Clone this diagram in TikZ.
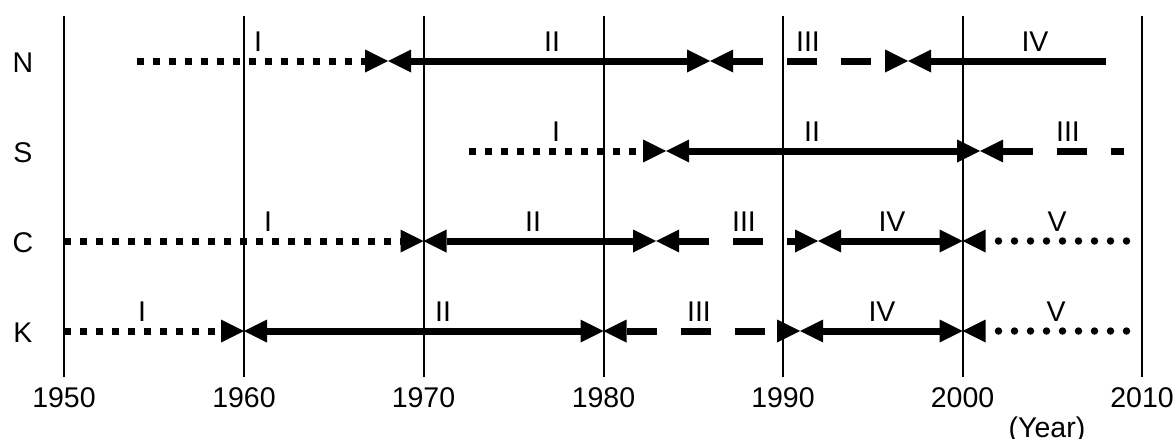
\documentclass[tikz,border=0pt]{standalone}
\usepackage{fontspec}
\setmainfont{Liberation Sans}
\usetikzlibrary{arrows.meta}
\begin{document}
\begin{tikzpicture}[x=1pt,y=-1pt,
  >={Triangle[length=23pt,width=23pt,line width=0pt]},
  gridline/.style={line width=2pt},
  lbl/.style={font=\fontsize{28.5}{30}\selectfont, inner sep=0pt, anchor=base},
  solidph/.style={line width=7pt},
  sqdot/.style={line width=7pt, dash pattern=on 7pt off 9pt},
  dashph/.style={line width=7pt, dash pattern=on 30pt off 24pt},
  rdot/.style={line width=7.5pt, line cap=round, dash pattern=on 0pt off 16pt, dash phase=3pt},
]
\useasboundingbox (0,0) rectangle (1176,439);

% vertical grid lines and year labels
\foreach \yr/\xx in {1950/64,1960/244,1970/423.5,1980/603.5,1990/783,2000/962.5,2010/1142}{
  \coordinate (t\yr) at (\xx,16);
  \coordinate (b\yr) at (\xx,377);
  \draw[gridline] (t\yr) -- (b\yr);
  \node[lbl] (lab\yr) at (\xx,407) {\yr};
}
\node[lbl] (year) at (1047,437) {(Year)};

% row labels
\node[lbl] (rN) at (23,72) {N};
\node[lbl] (rS) at (23,162) {S};
\node[lbl] (rC) at (23,252) {C};
\node[lbl] (rK) at (23,342) {K};

% row N
\coordinate (N0) at (137,61);
\coordinate (N1) at (388,61);
\coordinate (N2) at (710,61);
\coordinate (N3) at (908,61);
\coordinate (N4) at (1106,61);
\draw[sqdot,->] (N0) -- (N1);
\draw[solidph,<->] (N1) -- (N2);
\draw[dashph,<->] (N2) -- (N3);
\draw[solidph,<-] (N3) -- (N4);
\node[lbl] (NI) at (258,51) {I};
\node[lbl] (NII) at (552,51) {II};
\node[lbl] (NIII) at (808,51) {III};
\node[lbl] (NIV) at (1035,51) {IV};

% row S
\coordinate (S0) at (469,151);
\coordinate (S1) at (666,151);
\coordinate (S2) at (980,151);
\coordinate (S3) at (1124,151);
\draw[sqdot,->] (S0) -- (S1);
\draw[solidph,<->] (S1) -- (S2);
\draw[dashph,<-] (S2) -- (S3);
\node[lbl] (SI) at (556,141) {I};
\node[lbl] (SII) at (812,141) {II};
\node[lbl] (SIII) at (1068,141) {III};

% row C
\coordinate (C0) at (64,241);
\coordinate (C1) at (423.5,241);
\coordinate (C2) at (656,241);
\coordinate (C3) at (818,241);
\coordinate (C4) at (962.5,241);
\coordinate (C5) at (1127,241);
\draw[sqdot,->] (C0) -- (C1);
\draw[solidph,<->] (C1) -- (C2);
\draw[dashph,<->] (C2) -- (C3);
\draw[solidph,<->] (C3) -- (C4);
\draw[rdot,<-] (C4) -- (C5);
\node[lbl] (CI) at (268,231) {I};
\node[lbl] (CII) at (533,231) {II};
\node[lbl] (CIII) at (744,231) {III};
\node[lbl] (CIV) at (892,231) {IV};
\node[lbl] (CV) at (1057,231) {V};

% row K
\coordinate (K0) at (64,331);
\coordinate (K1) at (244,331);
\coordinate (K2) at (603.5,331);
\coordinate (K3) at (800,331);
\coordinate (K4) at (962.5,331);
\coordinate (K5) at (1127,331);
\draw[sqdot,->] (K0) -- (K1);
\draw[solidph,<->] (K1) -- (K2);
\draw[dashph,<->] (K2) -- (K3);
\draw[solidph,<->] (K3) -- (K4);
\draw[rdot,<-] (K4) -- (K5);
\node[lbl] (KI) at (142,321) {I};
\node[lbl] (KII) at (443,321) {II};
\node[lbl] (KIII) at (699,321) {III};
\node[lbl] (KIV) at (882,321) {IV};
\node[lbl] (KV) at (1056,321) {V};
\end{tikzpicture}
\end{document}
